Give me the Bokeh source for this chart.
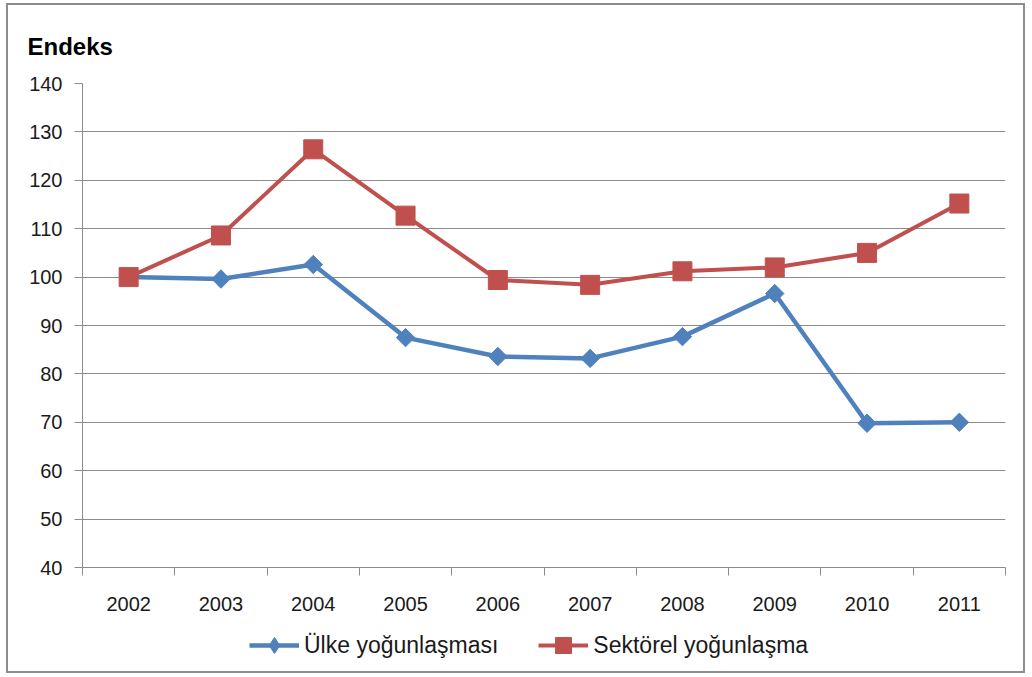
import numpy as np
from bokeh.plotting import figure
from bokeh.layouts import column
from bokeh.models import FixedTicker, Legend, LegendItem, Range1d
from bokeh.embed import file_html
from bokeh.resources import INLINE

# Index values (2002 = 100)
years = [2002, 2003, 2004, 2005, 2006, 2007, 2008, 2009, 2010, 2011]
ulke = [100.0, 99.6, 102.6, 87.5, 83.6, 83.2, 87.7, 96.6, 69.8, 70.0]
sektorel = [100.0, 108.6, 126.4, 112.7, 99.4, 98.4, 101.2, 102.0, 105.0, 115.2]
y_ticks = [40, 50, 60, 70, 80, 90, 100, 110, 120, 130, 140]
series_names = ["Ülke yoğunlaşması", "Sektörel yoğunlaşma"]

BLUE = "#4F81BD"
RED = "#C0504D"
GRID = "#8C8C8C"
FONT = "Liberation Sans"

p = figure(
    frame_width=923, frame_height=484,
    x_range=Range1d(years[0] - 0.5, years[-1] + 0.5),
    y_range=Range1d(y_ticks[0], y_ticks[-1]),
    output_backend="svg", toolbar_location=None,
    min_border_left=74, min_border_top=78, min_border_right=18, min_border_bottom=60,
)
p.outline_line_color = None
p.background_fill_color = "white"
p.border_fill_color = "white"

# heading above the value axis
p.title.text = "Endeks"
p.title.align = "left"
p.title.offset = -55
p.title.standoff = 48
p.title.text_font = FONT
p.title.text_font_size = "24px"
p.title.text_font_style = "bold"
p.title.text_color = "black"

# y axis and horizontal grid
p.yaxis.ticker = FixedTicker(ticks=y_ticks)
p.yaxis.axis_line_color = GRID
p.yaxis.major_tick_line_color = GRID
p.yaxis.major_tick_out = 8
p.yaxis.major_tick_in = 0
p.yaxis.minor_tick_line_color = None
p.yaxis.major_label_standoff = 12
p.yaxis.major_label_text_font = FONT
p.yaxis.major_label_text_font_size = "20px"
p.yaxis.major_label_text_color = "#1a1a1a"
p.ygrid.ticker = FixedTicker(ticks=y_ticks)
p.ygrid.grid_line_color = GRID
p.ygrid.grid_line_width = 1
p.xgrid.grid_line_color = None

# x axis: labels centred on categories, ticks on category boundaries
bounds = [y - 0.5 for y in years] + [years[-1] + 0.5]
p.xaxis.ticker = FixedTicker(ticks=years, minor_ticks=bounds)
p.xaxis.axis_line_color = GRID
p.xaxis.major_tick_line_color = None
p.xaxis.minor_tick_line_color = GRID
p.xaxis.minor_tick_out = 8
p.xaxis.minor_tick_in = 0
p.xaxis.major_label_standoff = 21
p.xaxis.major_label_text_font = FONT
p.xaxis.major_label_text_font_size = "20px"
p.xaxis.major_label_text_color = "#1a1a1a"

# series
p.line(years, ulke, line_color=BLUE, line_width=4.5)
p.scatter(years, ulke, marker="square", angle=np.pi / 4, size=13,
          fill_color=BLUE, line_color=BLUE)
p.line(years, sektorel, line_color=RED, line_width=4)
p.scatter(years, sektorel, marker="square", size=19,
          fill_color=RED, line_color=RED)

# legend strip under the chart; its renderers share the series styling
# (their data lies outside this strip's ranges, so only the legend shows)
lf = figure(width=1015, height=44, x_range=Range1d(0, 1), y_range=Range1d(0, 1),
            x_axis_type=None, y_axis_type=None, output_backend="svg",
            toolbar_location=None, min_border=0)
lf.outline_line_color = None
lf.grid.visible = False
lf.border_fill_color = "white"
b_line = lf.line(years, ulke, line_color=BLUE, line_width=4.5)
b_mark = lf.scatter(years, ulke, marker="diamond", size=11,
                    fill_color=BLUE, line_color=BLUE)
r_line = lf.line(years, sektorel, line_color=RED, line_width=4)
r_mark = lf.scatter(years, sektorel, marker="square", size=17,
                    fill_color=RED, line_color=RED)

legend = Legend(
    items=[LegendItem(label=series_names[0], renderers=[b_line, b_mark]),
           LegendItem(label=series_names[1], renderers=[r_line, r_mark])],
    orientation="horizontal", location=(167, 6),
    glyph_width=50, glyph_height=40, label_standoff=5, spacing=40,
    padding=0, margin=0,
    label_text_font=FONT, label_text_font_size="23px", label_text_color="#1a1a1a",
    border_line_color=None, background_fill_alpha=0,
)
lf.add_layout(legend, "center")

page = column(p, lf, spacing=0, margin=(3, 0, 0, 6),
              styles={"border": "2px solid #8D8D8D", "background": "white"})

open("out.html", "w").write(file_html(page, INLINE))
